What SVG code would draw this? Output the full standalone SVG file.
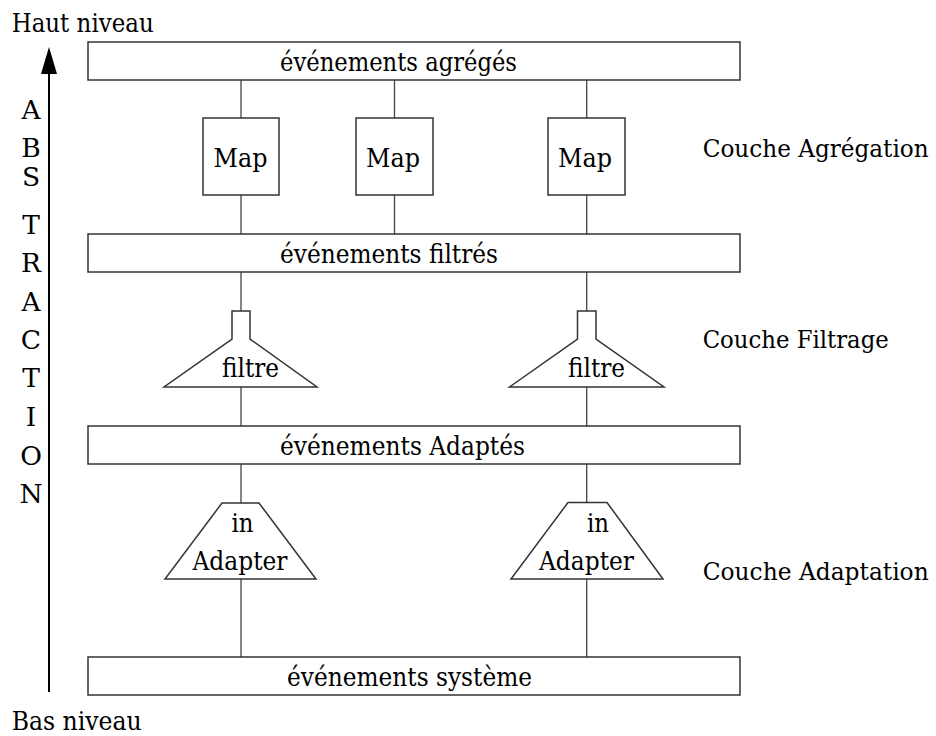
<svg xmlns="http://www.w3.org/2000/svg" width="936" height="736" viewBox="0 0 936 736">
<style>
text{font-family:'DejaVu Serif','Liberation Serif',serif;font-size:26.5px;fill:#000}
.m{text-anchor:middle}
.lay{font-size:24px}
.box{fill:#fff;stroke:#333;stroke-width:1.5}
.ln{stroke:#444;stroke-width:1.3;fill:none}
</style>
<rect width="936" height="736" fill="#fff"/>
<g id="axis">
<line x1="49" y1="70" x2="49" y2="692" stroke="#000" stroke-width="2"/>
<polygon points="49,47 41,74 57,74" fill="#000"/>
<text x="11.7" y="31.7" textLength="142" lengthAdjust="spacingAndGlyphs">Haut niveau</text>
<text x="11.7" y="730" textLength="130" lengthAdjust="spacingAndGlyphs">Bas niveau</text>
<text class="m" x="31" y="119">A</text>
<text class="m" x="31" y="157">B</text>
<text class="m" x="31" y="186">S</text>
<text class="m" x="31" y="234">T</text>
<text class="m" x="31" y="272">R</text>
<text class="m" x="31" y="311">A</text>
<text class="m" x="31" y="349">C</text>
<text class="m" x="31" y="387">T</text>
<text class="m" x="31" y="426">I</text>
<text class="m" x="31" y="465">O</text>
<text class="m" x="31" y="503">N</text>
</g>
<g id="connectors">
<line class="ln" x1="241" y1="80" x2="241" y2="118"/>
<line class="ln" x1="394.5" y1="80" x2="394.5" y2="118"/>
<line class="ln" x1="586.7" y1="80" x2="586.7" y2="118"/>
<line class="ln" x1="241" y1="195" x2="241" y2="234"/>
<line class="ln" x1="394.5" y1="195" x2="394.5" y2="234"/>
<line class="ln" x1="586.7" y1="195" x2="586.7" y2="234"/>
<line class="ln" x1="241" y1="272" x2="241" y2="311"/>
<line class="ln" x1="586.7" y1="272" x2="586.7" y2="311"/>
<line class="ln" x1="241" y1="387" x2="241" y2="426"/>
<line class="ln" x1="586.7" y1="387" x2="586.7" y2="426"/>
<line class="ln" x1="241" y1="464" x2="241" y2="503"/>
<line class="ln" x1="586.7" y1="464" x2="586.7" y2="503"/>
<line class="ln" x1="241" y1="579" x2="241" y2="657"/>
<line class="ln" x1="586.7" y1="579" x2="586.7" y2="657"/>
</g>
<g id="bar-agreges">
<rect class="box" x="88" y="42" width="652" height="38"/>
<text x="280" y="71" textLength="237" lengthAdjust="spacingAndGlyphs">événements agrégés</text>
</g>
<g id="map1">
<rect class="box" x="203" y="118" width="76" height="77"/>
<text class="m" x="240.5" y="167" textLength="54" lengthAdjust="spacingAndGlyphs">Map</text>
</g>
<g id="map2">
<rect class="box" x="356" y="118" width="77" height="77"/>
<text class="m" x="393" y="167" textLength="54" lengthAdjust="spacingAndGlyphs">Map</text>
</g>
<g id="map3">
<rect class="box" x="548" y="118" width="77" height="77"/>
<text class="m" x="585" y="167" textLength="54" lengthAdjust="spacingAndGlyphs">Map</text>
</g>
<g id="bar-filtres">
<rect class="box" x="88" y="234" width="652" height="38"/>
<text x="280" y="263" textLength="218" lengthAdjust="spacingAndGlyphs">événements filtrés</text>
</g>
<g id="filtre1">
<polygon class="box" points="232,311 250,311 250,339 317,387 164,387 232,339"/>
<text class="m" x="250.5" y="376.7" textLength="57" lengthAdjust="spacingAndGlyphs">filtre</text>
</g>
<g id="filtre2">
<polygon class="box" points="577.5,311 596,311 596,339 664,387 509.5,387 577.5,339"/>
<text class="m" x="596.5" y="376.7" textLength="57" lengthAdjust="spacingAndGlyphs">filtre</text>
</g>
<g id="bar-adaptes">
<rect class="box" x="88" y="426" width="652" height="38"/>
<text x="280" y="455" textLength="245" lengthAdjust="spacingAndGlyphs">événements Adaptés</text>
</g>
<g id="adapter1">
<polygon class="box" points="222,503 259,503 316,579 165,579"/>
<text class="m" x="242.5" y="531.7" textLength="22" lengthAdjust="spacingAndGlyphs">in</text>
<text class="m" x="240" y="570" textLength="95" lengthAdjust="spacingAndGlyphs">Adapter</text>
</g>
<g id="adapter2">
<polygon class="box" points="568,502.5 607,502.5 663,579 511,579"/>
<text class="m" x="598" y="531.7" textLength="22" lengthAdjust="spacingAndGlyphs">in</text>
<text class="m" x="586.5" y="570" textLength="95" lengthAdjust="spacingAndGlyphs">Adapter</text>
</g>
<g id="bar-systeme">
<rect class="box" x="88" y="657" width="652" height="38"/>
<text x="287" y="686" textLength="245" lengthAdjust="spacingAndGlyphs">événements système</text>
</g>
<g id="layers">
<text class="lay" x="702.7" y="156.7" textLength="226" lengthAdjust="spacingAndGlyphs">Couche Agrégation</text>
<text class="lay" x="702.7" y="348.3" textLength="186" lengthAdjust="spacingAndGlyphs">Couche Filtrage</text>
<text class="lay" x="702.7" y="580" textLength="226" lengthAdjust="spacingAndGlyphs">Couche Adaptation</text>
</g>
</svg>
